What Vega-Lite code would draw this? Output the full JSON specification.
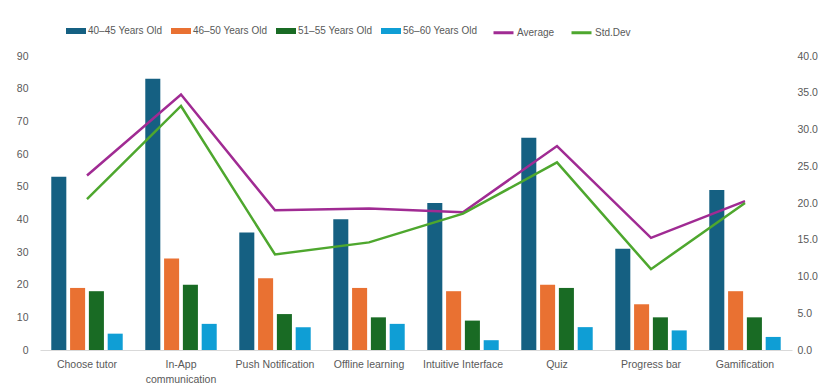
{
  "$schema": "https://vega.github.io/schema/vega-lite/v6.json",
  "width": 752,
  "height": 294,
  "autosize": {"type": "none"},
  "padding": {"left": 40, "top": 56, "right": 26, "bottom": 38},
  "background": "white",
  "config": {
    "view": {"stroke": null},
    "font": "Liberation Sans",
    "axis": {"labelColor": "#595959", "labelFontSize": 10.5, "ticks": false, "grid": false, "domain": false, "title": null, "labelFont": "Liberation Sans"}
  },
  "datasets": {
    "bars": [
      {"category": "Choose tutor", "group": "40–45 Years Old", "value": 53},
      {"category": "Choose tutor", "group": "46–50 Years Old", "value": 19},
      {"category": "Choose tutor", "group": "51–55 Years Old", "value": 18},
      {"category": "Choose tutor", "group": "56–60 Years Old", "value": 5},
      {"category": "In-App communication", "group": "40–45 Years Old", "value": 83},
      {"category": "In-App communication", "group": "46–50 Years Old", "value": 28},
      {"category": "In-App communication", "group": "51–55 Years Old", "value": 20},
      {"category": "In-App communication", "group": "56–60 Years Old", "value": 8},
      {"category": "Push Notification", "group": "40–45 Years Old", "value": 36},
      {"category": "Push Notification", "group": "46–50 Years Old", "value": 22},
      {"category": "Push Notification", "group": "51–55 Years Old", "value": 11},
      {"category": "Push Notification", "group": "56–60 Years Old", "value": 7},
      {"category": "Offline learning", "group": "40–45 Years Old", "value": 40},
      {"category": "Offline learning", "group": "46–50 Years Old", "value": 19},
      {"category": "Offline learning", "group": "51–55 Years Old", "value": 10},
      {"category": "Offline learning", "group": "56–60 Years Old", "value": 8},
      {"category": "Intuitive Interface", "group": "40–45 Years Old", "value": 45},
      {"category": "Intuitive Interface", "group": "46–50 Years Old", "value": 18},
      {"category": "Intuitive Interface", "group": "51–55 Years Old", "value": 9},
      {"category": "Intuitive Interface", "group": "56–60 Years Old", "value": 3},
      {"category": "Quiz", "group": "40–45 Years Old", "value": 65},
      {"category": "Quiz", "group": "46–50 Years Old", "value": 20},
      {"category": "Quiz", "group": "51–55 Years Old", "value": 19},
      {"category": "Quiz", "group": "56–60 Years Old", "value": 7},
      {"category": "Progress bar", "group": "40–45 Years Old", "value": 31},
      {"category": "Progress bar", "group": "46–50 Years Old", "value": 14},
      {"category": "Progress bar", "group": "51–55 Years Old", "value": 10},
      {"category": "Progress bar", "group": "56–60 Years Old", "value": 6},
      {"category": "Gamification", "group": "40–45 Years Old", "value": 49},
      {"category": "Gamification", "group": "46–50 Years Old", "value": 18},
      {"category": "Gamification", "group": "51–55 Years Old", "value": 10},
      {"category": "Gamification", "group": "56–60 Years Old", "value": 4}
    ],
    "lines": [
      {"category": "Choose tutor", "series": "Average", "value": 23.75},
      {"category": "In-App communication", "series": "Average", "value": 34.75},
      {"category": "Push Notification", "series": "Average", "value": 19.0},
      {"category": "Offline learning", "series": "Average", "value": 19.25},
      {"category": "Intuitive Interface", "series": "Average", "value": 18.75},
      {"category": "Quiz", "series": "Average", "value": 27.75},
      {"category": "Progress bar", "series": "Average", "value": 15.25},
      {"category": "Gamification", "series": "Average", "value": 20.25},
      {"category": "Choose tutor", "series": "Std.Dev", "value": 20.52},
      {"category": "In-App communication", "series": "Std.Dev", "value": 33.2},
      {"category": "Push Notification", "series": "Std.Dev", "value": 12.99},
      {"category": "Offline learning", "series": "Std.Dev", "value": 14.64},
      {"category": "Intuitive Interface", "series": "Std.Dev", "value": 18.55},
      {"category": "Quiz", "series": "Std.Dev", "value": 25.53},
      {"category": "Progress bar", "series": "Std.Dev", "value": 11.0},
      {"category": "Gamification", "series": "Std.Dev", "value": 20.01}
    ]
  },
  "layer": [
    {
      "data": {"name": "bars"},
      "mark": {"type": "bar"},
      "encoding": {
        "x": {
          "field": "category", "type": "nominal",
          "sort": ["Choose tutor", "In-App communication", "Push Notification", "Offline learning", "Intuitive Interface", "Quiz", "Progress bar", "Gamification"],
          "scale": {"paddingInner": 0.2, "paddingOuter": 0.1},
          "title": null,
          "axis": {"domain": true, "domainColor": "#d9d9d9", "domainWidth": 1, "labelAngle": 0, "labelPadding": 9, "labelLineHeight": 15, "labelExpr": "datum.value == 'In-App communication' ? ['In-App', 'communication'] : datum.value"}
        },
        "xOffset": {
          "field": "group", "type": "nominal",
          "sort": ["40–45 Years Old", "46–50 Years Old", "51–55 Years Old", "56–60 Years Old"],
          "scale": {"paddingInner": 0.2, "paddingOuter": 0.1}
        },
        "y": {
          "field": "value", "type": "quantitative",
          "scale": {"domain": [0, 90], "nice": false},
          "title": null,
          "axis": {"orient": "left", "values": [0, 10, 20, 30, 40, 50, 60, 70, 80, 90], "labelPadding": 12}
        },
        "fill": {
          "field": "group", "type": "nominal",
          "scale": {"domain": ["40–45 Years Old", "46–50 Years Old", "51–55 Years Old", "56–60 Years Old"], "range": ["#156082", "#E97132", "#196B24", "#0F9ED5"]},
          "legend": {"orient": "none", "legendX": 26, "legendY": -35, "direction": "horizontal", "title": null, "symbolType": "M-1,-0.3H1V0.3H-1Z", "symbolSize": 400, "symbolStrokeWidth": 0, "labelFont": "Liberation Sans", "labelFontSize": 10, "labelColor": "#595959", "gridAlign": "all", "columnPadding": 8, "labelOffset": 2}
        }
      }
    },
    {
      "data": {"name": "lines"},
      "mark": {"type": "line", "strokeWidth": 2.5},
      "encoding": {
        "x": {
          "field": "category", "type": "nominal",
          "sort": ["Choose tutor", "In-App communication", "Push Notification", "Offline learning", "Intuitive Interface", "Quiz", "Progress bar", "Gamification"]
        },
        "y": {
          "field": "value", "type": "quantitative",
          "scale": {"domain": [0, 40], "nice": false},
          "title": null,
          "axis": {"orient": "right", "values": [0, 5, 10, 15, 20, 25, 30, 35, 40], "format": ".1f", "labelPadding": 5}
        },
        "stroke": {
          "field": "series", "type": "nominal",
          "scale": {"domain": ["Average", "Std.Dev"], "range": ["#A02B93", "#4EA72E"]},
          "legend": {"orient": "none", "legendX": 452, "legendY": -35, "direction": "horizontal", "title": null, "symbolType": "stroke", "symbolSize": 400, "symbolStrokeWidth": 3, "labelFont": "Liberation Sans", "labelFontSize": 10, "labelColor": "#595959", "columnPadding": 10, "labelOffset": 2}
        },
        "order": {"value": null}
      }
    }
  ],
  "resolve": {"scale": {"y": "independent"}}
}
